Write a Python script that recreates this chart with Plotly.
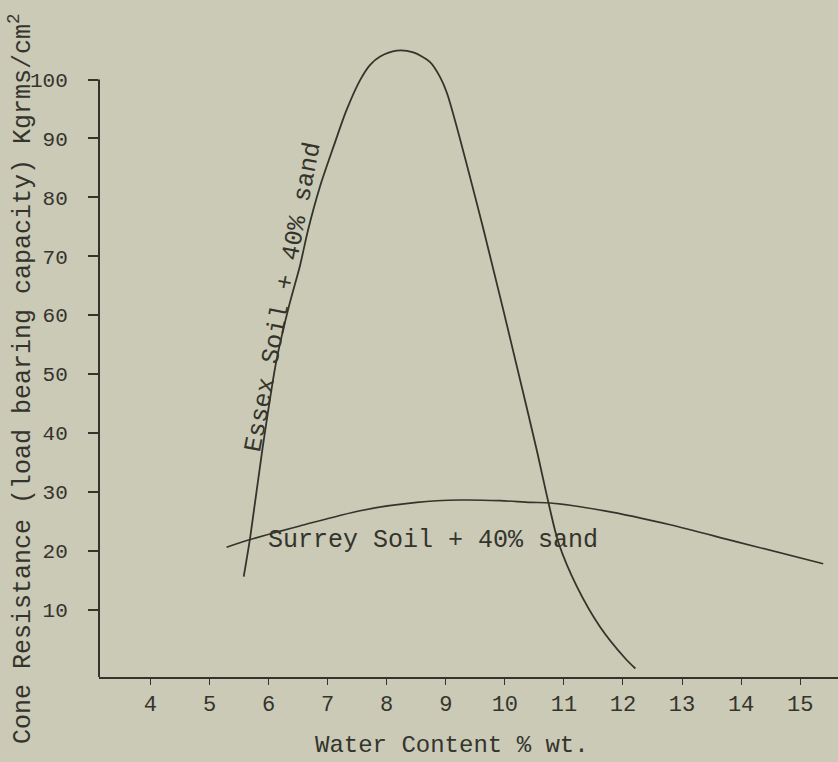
import plotly.graph_objects as go

# Water content (% wt) vs cone resistance (Kgrms/cm^2)
essex_x = [5.58, 5.69, 5.89, 6.13, 6.35, 6.53, 6.67, 6.87, 7.10, 7.32, 7.55, 7.72, 7.89,
           8.17, 8.45, 8.73, 8.90, 9.02, 9.64, 10.34, 10.54, 10.74, 10.91, 11.22, 11.61,
           12.04, 12.21]
essex_y = [15.6, 22.3, 36.8, 52.1, 61.7, 68.3, 74.5, 81.8, 88.6, 94.8, 99.9, 102.5, 103.9,
           104.9, 104.6, 103.0, 100.5, 97.7, 74.5, 45.6, 37.1, 28.1, 21.3, 13.9, 7.1,
           1.7, 0.0]

surrey_x = [5.29, 5.69, 6.53, 7.55, 8.51, 9.24, 9.92, 10.43, 10.77, 11.67, 12.80, 13.93, 15.39]
surrey_y = [20.6, 21.9, 24.2, 26.8, 28.2, 28.6, 28.5, 28.2, 28.1, 26.8, 24.4, 21.5, 17.8]

x_ticks = [4, 5, 6, 7, 8, 9, 10, 11, 12, 13, 14, 15]
y_ticks = [10, 20, 30, 40, 50, 60, 70, 80, 90, 100]

essex_label = "Essex Soil + 40% sand"
surrey_label = "Surrey Soil + 40% sand"
x_title = "Water Content % wt."
y_title = "Cone Resistance (load bearing capacity) Kgrms/cm<sup>2</sup>"

BG = "#cacab7"
INK = "#34342c"
FONT = "Liberation Mono"

X_RANGE = [3.13, 15.64]
Y_RANGE = [-1.44, 111.8]

fig = go.Figure()
fig.add_trace(go.Scatter(x=essex_x, y=essex_y, mode="lines",
                         line=dict(color=INK, width=1.8, shape="spline", smoothing=0.8),
                         showlegend=False, hoverinfo="skip"))
fig.add_trace(go.Scatter(x=surrey_x, y=surrey_y, mode="lines",
                         line=dict(color=INK, width=1.6, shape="spline", smoothing=0.8),
                         showlegend=False, hoverinfo="skip"))

fig.update_layout(
    width=838, height=762,
    margin=dict(l=99, r=0, t=10, b=85),
    paper_bgcolor=BG, plot_bgcolor=BG,
    font=dict(family=FONT, color=INK, size=22),
    xaxis=dict(range=X_RANGE, tickvals=x_ticks, ticktext=[str(v) for v in x_ticks],
               showgrid=False, zeroline=False, showline=True, linecolor=INK, linewidth=2,
               ticks="outside", ticklen=6, tickwidth=1, tickcolor=INK,
               tickfont=dict(size=22, family=FONT, color=INK)),
    yaxis=dict(range=Y_RANGE, tickvals=y_ticks, ticktext=[str(v) for v in y_ticks],
               showgrid=False, zeroline=False, showline=False,
               ticks="outside", ticklen=10, tickwidth=2, tickcolor=INK,
               ticklabelstandoff=16,
               tickfont=dict(size=21, family=FONT, color=INK)),
)

# y axis line from bottom up to the 100 tick
fig.add_shape(type="line", xref="paper", yref="y", x0=0, x1=0, y0=Y_RANGE[0], y1=100,
              line=dict(color=INK, width=2))

fig.add_annotation(text=y_title, xref="paper", yref="paper", x=(21 - 99) / 739,
                   y=(677 - 379) / 667, textangle=-90, showarrow=False,
                   xanchor="center", yanchor="middle", font=dict(size=25, family=FONT, color=INK))
fig.add_annotation(text=x_title, xref="paper", yref="paper", x=(452 - 99) / 739,
                   y=(677 - 745) / 667, showarrow=False,
                   xanchor="center", yanchor="middle", font=dict(size=24, family=FONT, color=INK))
fig.add_annotation(text=surrey_label, x=8.79, y=21.8, showarrow=False,
                   xanchor="center", yanchor="middle", font=dict(size=25, family=FONT, color=INK))
fig.add_annotation(text=essex_label, x=6.26, y=63.1, textangle=-79, showarrow=False,
                   xanchor="center", yanchor="middle", font=dict(size=25, family=FONT, color=INK))

fig.write_html(
    "out.html",
    config={"displayModeBar": False},
    post_script=(
        "document.body.style.margin='0';"
        "document.body.style.padding='0';"
        "document.body.style.overflow='hidden';"
        "document.body.style.background='" + BG + "';"
    ),
)
